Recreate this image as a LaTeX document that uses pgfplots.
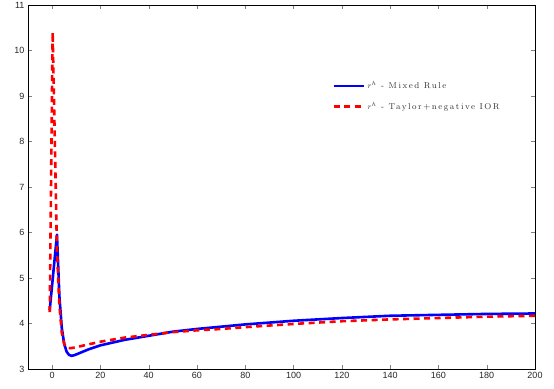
\documentclass[border=0pt]{standalone}
\usepackage{fontspec}
\usepackage{pgfplots}
\pgfplotsset{compat=1.18}
\newfontfamily\helv{Liberation Sans}
\newfontfamily\legfont[LetterSpace=18]{Latin Modern Roman}
\begin{document}
\begin{tikzpicture}
\begin{axis}[
  scale only axis,
  width=507pt, height=364pt,
  xmin=-10, xmax=200, ymin=3, ymax=11,
  xtick={0,20,...,200}, ytick={3,4,...,11},
  tick align=inside,
  tick label style={font=\helv\fontsize{9}{10}\selectfont, text=black!85},
  /pgf/number format/assume math mode=true,
  axis line style={black, line width=0.8pt},
  major tick length=4pt,
  legend style={draw=none, fill=none, at={(0.60,0.795)}, anchor=north west,
    font=\legfont\fontsize{8.5}{9}\selectfont, row sep=8pt, text=black!80,
    inner sep=0pt, /tikz/every even column/.append style={column sep=1pt}},
  legend cell align=left,
  legend image post style={xscale=1.8},
]
\addplot[blue, line width=2.6pt, line join=round] coordinates {
(-1,4.3) (0,4.85) (1,5.4) (2,5.95) (3,4.6) (4,3.9) (5,3.55) (6,3.38) (7,3.31) (8,3.29) (9,3.3) (10,3.32)
(15,3.43) (20,3.52) (30,3.64) (40,3.73) (50,3.82) (60,3.88) (70,3.93) (80,3.98)
(100,4.06) (120,4.12) (140,4.17) (160,4.19) (180,4.21) (200,4.22)
};
\addlegendentry{$r^h$ - Mixed Rule}
\addplot[red, line width=2.6pt, dash pattern=on 6pt off 4.5pt] coordinates {
(-1,4.25) (0.2,10.4) (1,8.3) (2,5.6) (3,4.4) (4,3.8) (5,3.55) (6,3.47) (7,3.46) (8,3.46) (10,3.48)
(20,3.6) (30,3.69) (40,3.75) (50,3.81) (60,3.85) (70,3.88) (80,3.92)
(100,3.99) (120,4.05) (140,4.09) (160,4.12) (180,4.15) (200,4.17)
};
\addlegendentry{$r^h$ - Taylor+negative IOR}
\end{axis}
\pgfresetboundingbox
\path ([shift={(-28pt,-20pt)}]current axis.south west) rectangle ([shift={(19pt,5pt)}]current axis.north east);
\end{tikzpicture}
\end{document}
